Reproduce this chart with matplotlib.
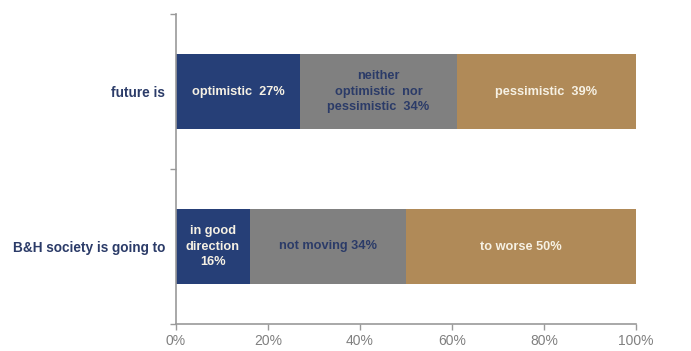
import matplotlib.pyplot as plt

plt.rcParams['font.family'] = ['Liberation Sans', 'DejaVu Sans']

categories = ['B&H society is going to', 'future is']
positive = [16, 27]
neutral = [34, 34]
negative = [50, 39]
positive_labels = ['in good\ndirection\n16%', 'optimistic  27%']
neutral_labels = ['not moving 34%', 'neither\noptimistic  nor\npessimistic  34%']
negative_labels = ['to worse 50%', 'pessimistic  39%']
x_ticks = [0, 20, 40, 60, 80, 100]

NAVY = '#263f77'
GRAY = '#808080'
TAN = '#b08a58'
LABEL_NAVY = '#2b3b68'
LIGHT = '#f6f1e4'
AXIS = '#999999'

fig = plt.figure(figsize=(6.91, 3.51), dpi=100)
ax = fig.add_axes([176 / 691, 27 / 351, 460 / 691, 310 / 351])

y = list(range(len(categories)))
h = 0.49
b1 = ax.barh(y, positive, height=h, color=NAVY)
b2 = ax.barh(y, neutral, left=positive, height=h, color=GRAY)
left3 = [p + n for p, n in zip(positive, neutral)]
b3 = ax.barh(y, negative, left=left3, height=h, color=TAN)

for bars, labels, col in [(b1, positive_labels, LIGHT),
                          (b2, neutral_labels, LABEL_NAVY),
                          (b3, negative_labels, LIGHT)]:
    for bar, lab in zip(bars, labels):
        ax.text(bar.get_x() + bar.get_width() / 2, bar.get_y() + bar.get_height() / 2,
                lab, ha='center', va='center', color=col, fontsize=9.2,
                fontweight='bold', linespacing=1.4)

ax.set_xlim(0, 100)
ax.set_ylim(-0.5, len(categories) - 0.5)
ax.set_xticks(x_ticks)
ax.set_xticklabels([f'{t}%' for t in x_ticks], color=GRAY, fontsize=10)
ax.set_yticks([-0.5, 0.5, 1.5])
ax.set_yticklabels([])
ax.set_yticks(y, minor=True)
ax.set_yticklabels(categories, minor=True, color=LABEL_NAVY, fontsize=9.8, fontweight='bold')
ax.tick_params(axis='y', which='minor', length=0, pad=8)
ax.tick_params(axis='both', which='major', length=4, color=AXIS, width=1)
ax.tick_params(axis='x', pad=3)

for s in ['top', 'right']:
    ax.spines[s].set_visible(False)
for s in ['left', 'bottom']:
    ax.spines[s].set_color(AXIS)
    ax.spines[s].set_linewidth(1.2)

fig.savefig('out.png', dpi=100)
